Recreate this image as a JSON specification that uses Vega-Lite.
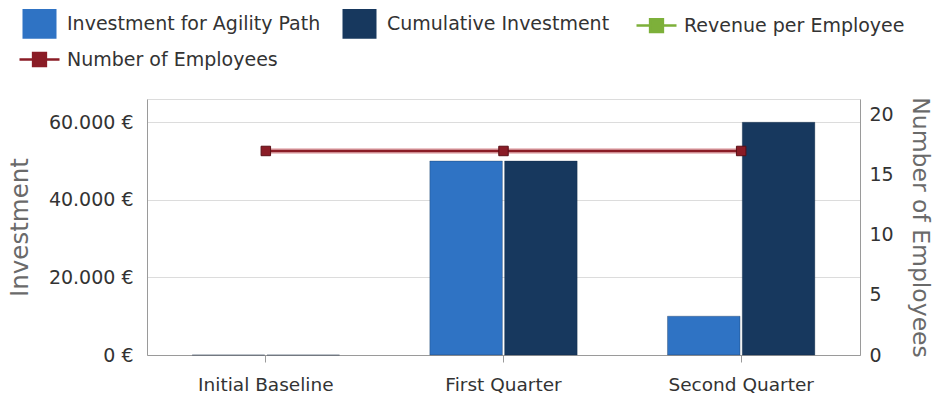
{
  "$schema": "https://vega.github.io/schema/vega-lite/v6.json",
  "width": 713,
  "height": 256,
  "autosize": {"type": "none"},
  "padding": {"left": 147, "top": 99, "right": 77, "bottom": 48},
  "background": "white",
  "config": {
    "font": "DejaVu Sans",
    "view": {"stroke": "#dcdcdc"},
    "axis": {"labelFont": "DejaVu Sans", "titleFont": "DejaVu Sans", "titleFontWeight": "normal"}
  },
  "datasets": {
    "bars": [
      {"category": "Initial Baseline", "series": "Investment for Agility Path", "value": 0},
      {"category": "Initial Baseline", "series": "Cumulative Investment", "value": 0},
      {"category": "First Quarter", "series": "Investment for Agility Path", "value": 50000},
      {"category": "First Quarter", "series": "Cumulative Investment", "value": 50000},
      {"category": "Second Quarter", "series": "Investment for Agility Path", "value": 10000},
      {"category": "Second Quarter", "series": "Cumulative Investment", "value": 60000}
    ],
    "lines": [
      {"category": "Initial Baseline", "series": "Number of Employees", "employees": 17},
      {"category": "First Quarter", "series": "Number of Employees", "employees": 17},
      {"category": "Second Quarter", "series": "Number of Employees", "employees": 17}
    ]
  },
  "encoding": {
    "x": {
      "field": "category",
      "type": "nominal",
      "sort": ["Initial Baseline", "First Quarter", "Second Quarter"],
      "scale": {"paddingInner": 0.38, "paddingOuter": 0.19},
      "axis": {
        "title": null,
        "labelAngle": 0,
        "labelFontSize": 18.5,
        "labelColor": "#333333",
        "labelPadding": 13,
        "domainColor": "#9a9a9a",
        "tickColor": "#9a9a9a",
        "tickSize": 7,
        "grid": false
      }
    }
  },
  "layer": [
    {
      "data": {"name": "bars"},
      "mark": {"type": "bar", "stroke": "#0d2440", "strokeWidth": 1, "strokeOpacity": 0.3},
      "encoding": {
        "xOffset": {
          "field": "series",
          "type": "nominal",
          "sort": ["Investment for Agility Path", "Cumulative Investment"],
          "scale": {"paddingInner": 0.03}
        },
        "y": {
          "field": "value",
          "type": "quantitative",
          "scale": {"domain": [0, 66000], "nice": false},
          "axis": {
            "orient": "left",
            "values": [0, 20000, 40000, 60000],
            "labelExpr": "replace(format(datum.value, ','), ',', '.') + ' €'",
            "labelFontSize": 19,
            "labelColor": "#333333",
            "labelPadding": 14,
            "ticks": false,
            "domainColor": "#9a9a9a",
            "grid": true,
            "gridColor": "#dcdcdc",
            "title": "Investment",
            "titleFontSize": 24.5,
            "titleColor": "#6a6a6a",
            "titlePadding": 16
          }
        },
        "color": {
          "field": "series",
          "type": "nominal",
          "scale": {
            "domain": ["Investment for Agility Path", "Cumulative Investment", "Revenue per Employee", "Number of Employees"],
            "range": ["#2f73c4", "#17385e", "#7db03a", "#8a1c26"]
          },
          "legend": {
            "title": null,
            "orient": "none",
            "legendX": -117,
            "legendY": -85,
            "direction": "horizontal",
            "columns": 3,
            "columnPadding": 21,
            "rowPadding": 9,
            "symbolSize": 1600,
            "symbolType": {"expr": "datum.value == 'Investment for Agility Path' || datum.value == 'Cumulative Investment' ? 'M-0.85,-0.74H0.85V0.74H-0.85Z' : 'M-1,0H1M-0.32,-0.32H0.32V0.32H-0.32Z'"},
            "symbolStrokeWidth": {"expr": "datum.value == 'Investment for Agility Path' || datum.value == 'Cumulative Investment' ? 0 : 2.5"},
            "symbolStrokeColor": {"expr": "scale('color', datum.value)"},
            "symbolOpacity": 1,
            "labelOffset": 18,
            "labelFontSize": 19,
            "labelColor": "#333333",
            "labelFont": "DejaVu Sans",
            "labelLimit": 400
          }
        }
      }
    },
    {
      "data": {"name": "lines"},
      "encoding": {
        "y": {
          "field": "employees",
          "type": "quantitative",
          "scale": {"domain": [0, 21.33], "nice": false},
          "axis": {
            "orient": "right",
            "values": [0, 5, 10, 15, 20],
            "labelFontSize": 19,
            "labelColor": "#333333",
            "labelPadding": 9,
            "ticks": false,
            "domainColor": "#9a9a9a",
            "grid": false,
            "title": "Number of Employees",
            "titleFontSize": 23.5,
            "titleColor": "#6a6a6a",
            "titleAngle": 90,
            "titlePadding": 14
          }
        }
      },
      "layer": [
        {
          "mark": {"type": "line", "color": "#c4505c", "strokeWidth": 5.5, "opacity": 0.45},
          "encoding": {}
        },
        {
          "mark": {"type": "line", "strokeWidth": 2.5},
          "encoding": {"color": {"field": "series", "type": "nominal", "legend": null}}
        },
        {
          "mark": {"type": "point", "shape": "square", "filled": true, "size": 90, "opacity": 1, "stroke": "#5a0f16", "strokeWidth": 1},
          "encoding": {"color": {"field": "series", "type": "nominal", "legend": null}}
        }
      ]
    }
  ],
  "resolve": {"scale": {"y": "independent"}}
}
